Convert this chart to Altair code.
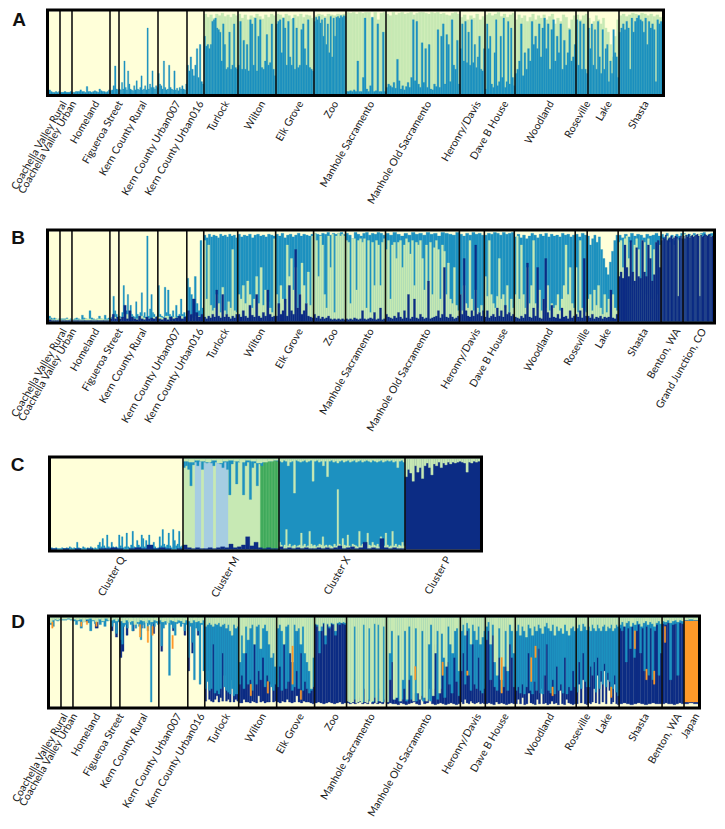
import altair as alt
import pandas as pd

CREAM, LGREEN, GREEN, BLUE, NAVY, ORANGE, PALE = "#FFFFD9", "#C7E9B4", "#41AB5D", "#1D91C0", "#0C2C84", "#FE9929", "#A6CDE2"
PALETTE_NAMES = ["cream", "lgreen", "green", "blue", "navy", "orange", "pale"]
PALETTE_HEX = [CREAM, LGREEN, GREEN, BLUE, NAVY, ORANGE, PALE]

POPS_COMMON = ["Coachella Valley Rural", "Coachella Valley Urban", "Homeland", "Figueroa Street", "Kern County Rural",
               "Kern County Urban007", "Kern County Urban016", "Turlock", "Wilton", "Elk Grove", "Zoo", "Manhole Sacramento",
               "Manhole Old Sacramento", "Heronry/Davis", "Dave B House", "Woodland", "Roseville", "Lake", "Shasta"]
SIZES_COMMON = [11, 12, 38, 9, 39, 29, 17, 34, 38, 38, 32, 40, 74, 25, 30, 61, 12, 31, 43]
POPS_B = POPS_COMMON + ["Benton, WA", "Grand Junction, CO"]
SIZES_B = SIZES_COMMON + [22, 30]
POPS_C = ["Cluster Q", "Cluster M", "Cluster X", "Cluster P"]
SIZES_C = [132, 96, 126, 75]
POPS_D = POPS_COMMON + ["Benton, WA", "Japan"]
SIZES_D = SIZES_COMMON + [22, 14]
LABEL_SHIFT = {"Coachella Valley Rural": 4, "Coachella Valley Urban": 2}

# ---- Panel A: cumulative heights from the bottom, one list per population
A_CREAM = [[100]] * 19
A_GREEN = [[], [], [], [], [], [], [],
    [97, 93, 96, 92, 97, 95, 98, 94, 96, 93, 97, 95],
    [97, 92, 96, 90, 95, 93, 97, 94, 91, 96, 93, 97, 95],
    [97, 96, 93, 97, 95, 91, 96, 94, 97, 93, 96, 95, 92],
    [95, 97, 96, 94, 97, 96, 95, 97, 96, 97],
    [99, 98, 99, 97, 99, 98, 99, 99, 92, 99, 90, 98, 99],
    [97, 95, 99, 96, 98, 99, 97, 98, 99, 96, 98, 99, 99, 98, 97, 99, 98, 99, 97, 98, 96, 95, 98, 99, 97],
    [93, 96, 90, 95, 92, 97, 90, 94],
    [96, 98, 95, 97, 99, 94, 97, 93, 96, 98],
    [90, 96, 92, 95, 88, 93, 97, 90, 95, 92, 96, 90, 94, 97, 85, 92, 88, 96, 93, 80, 90, 95],
    [96, 90, 95, 97],
    [92, 80, 88, 95, 90, 85, 92, 80, 75, 60, 45, 70, 90],
    [95, 97, 94, 96, 98, 97, 96, 98, 97, 95, 97, 94, 96, 93]]
A_BLUE = [[5, 3, 2, 2, 3, 2, 3], [2, 2, 3, 2, 2, 3],
    [2, 2, 3, 3, 3, 5, 3, 3, 2, 9, 3, 3, 2, 3, 4, 3, 2, 6, 4, 3, 3, 2, 3, 5],
    [4, 5, 10, 34, 6, 5],
    [6, 5, 14, 6, 40, 8, 5, 28, 12, 6, 5, 4, 10, 5, 16, 6, 5, 8, 22, 5, 6, 10, 5, 80, 6, 12, 8, 28, 8, 6, 10, 8],
    [25, 12, 10, 6, 40, 8, 5, 6, 35, 8, 6, 5, 28, 5, 7, 4, 8, 6, 10, 6, 5, 12],
    [35, 28, 45, 30, 22, 35, 55, 20, 60, 15, 12],
    [70, 58, 60, 55, 60, 88, 90, 92, 80, 78, 75, 40, 85, 60, 30, 32, 75, 30, 35, 85, 32, 30],
    [35, 88, 30, 65, 30, 60, 28, 90, 85, 35, 92, 28, 70, 90, 32, 30, 40, 72, 35, 38, 85, 30, 22],
    [85, 88, 90, 50, 92, 80, 35, 88, 45, 35, 92, 30, 80, 32, 35, 78, 85, 55, 35, 90, 32, 30, 28],
    [88, 93, 90, 94, 86, 90, 70, 92, 60, 85, 50, 94, 45, 92, 70, 93, 94, 92, 95, 93, 95, 94],
    [3, 3, 4, 3, 5, 3, 40, 3, 3, 20, 92, 6, 3, 10, 93, 3, 4, 85, 3, 3, 75, 3],
    [8, 12, 10, 8, 14, 7, 42, 16, 6, 10, 5, 9, 14, 8, 20, 90, 16, 88, 12, 8, 62, 14, 55, 8, 60, 6, 5, 12, 9, 78, 8, 70, 85, 12, 72, 60, 15, 90, 35, 30, 65, 12],
    [55, 85, 40, 88, 38, 75, 35, 90, 38, 60, 32, 45, 70, 30, 28, 55],
    [6, 85, 55, 70, 12, 8, 50, 90, 10, 15, 70, 20, 92, 8, 15, 88, 12, 80, 20, 10],
    [25, 30, 40, 85, 22, 50, 30, 55, 40, 88, 60, 70, 55, 85, 45, 80, 92, 55, 85, 30, 78, 90, 40, 70, 50, 85, 30, 65, 35, 50, 78, 40, 45, 60],
    [90, 35, 88, 30, 85, 30, 25],
    [80, 55, 85, 35, 78, 30, 88, 45, 25, 78, 30, 55, 60, 15, 40, 25, 78, 50, 45, 20],
    [75, 80, 85, 78, 88, 80, 30, 92, 75, 88, 92, 95, 90, 88, 75, 92, 60, 88, 80, 85, 78, 15, 90, 85, 88]]

# ---- Panel B: cumulative heights from the bottom
B_CREAM = [[100]] * 21
B_BLUE = [[6, 4, 3, 4, 3, 2, 3], [3, 3, 3, 4, 2, 3],
    [2, 3, 4, 3, 2, 7, 4, 3, 2, 12, 4, 3, 2, 3, 6, 3, 2, 7, 3, 4],
    [4, 5, 28, 12, 8, 5],
    [6, 5, 10, 40, 6, 12, 30, 8, 18, 8, 6, 5, 22, 8, 5, 10, 32, 6, 10, 5, 95, 6, 14, 30, 10, 8, 5, 6],
    [40, 8, 6, 5, 38, 10, 35, 8, 6, 12, 5, 18, 6, 8, 25, 8, 10, 6],
    [48, 38, 30, 25, 50, 20, 12, 90, 15],
    [96, 93, 97, 94, 96, 95, 93, 97, 95, 96, 94, 97, 95, 96, 93],
    [97, 94, 96, 95, 97, 93, 96, 97, 95, 96, 94, 97, 96, 95],
    [97, 95, 98, 93, 96, 97, 94, 96, 98, 95, 97, 96, 95, 97],
    [98, 97, 96, 98, 97, 99, 96, 98, 97, 98, 99, 97],
    [98, 96, 92, 99, 97, 95, 98, 99, 96, 98, 97, 99, 98, 96],
    [98, 96, 99, 97, 95, 98, 96, 99, 97, 98, 96, 99, 97, 98, 95, 99, 98, 97, 96, 99],
    [97, 95, 98, 96, 99, 97, 98, 96],
    [96, 98, 97, 99, 98, 96, 99, 97, 98, 99],
    [94, 97, 93, 96, 92, 95, 98, 96, 93, 97, 95, 98, 94, 97, 95, 96, 94, 98, 96, 97, 94, 96],
    [97, 94, 98, 96],
    [95, 85, 92, 96, 88, 94, 80, 70, 60, 52, 66, 78, 90, 96],
    [96, 93, 97, 94, 98, 95, 97, 96, 93, 97, 95, 96, 98, 95],
    [97, 94, 98, 93, 96, 90, 97, 95, 98],
    [98, 96, 97, 95, 98, 96, 97, 98, 99, 96, 97, 98]]
B_GREEN = [[3, 2, 2, 3, 2], [2, 2, 3, 2], [2, 2, 3, 2, 3, 2], [3, 5, 4], [4, 8, 5, 3, 6, 4, 3, 5],
    [5, 4, 6, 3, 5, 4, 6, 3], [8, 4, 6, 3],
    [90, 25, 85, 18, 12, 15, 30, 20, 10, 38, 12, 8, 22, 15, 80, 12, 10],
    [30, 25, 40, 20, 45, 30, 15, 25, 50, 20, 60, 18, 35, 22, 15, 10, 92],
    [30, 15, 40, 25, 20, 85, 50, 70, 35, 60, 15, 30, 65, 40, 20, 55, 18, 95],
    [98, 90, 50, 95, 85, 30, 15, 95, 60, 97, 10, 95, 98, 95, 97, 95],
    [90, 88, 20, 92, 92, 35, 90, 92, 88, 92, 15, 90, 10, 88, 40, 90, 85, 40, 88, 92],
    [80, 90, 25, 85, 88, 70, 88, 90, 60, 85, 92, 88, 75, 90, 40, 88, 85, 90, 70, 35, 85, 45, 88, 30, 82, 90, 80, 25, 85, 78, 30, 65, 25, 20, 60, 18, 12],
    [30, 12, 40, 20, 15, 90, 25, 12, 35, 15, 10, 18, 8],
    [50, 28, 90, 30, 20, 15, 28, 70, 25, 30, 15, 40, 10, 25, 15],
    [30, 95, 25, 85, 30, 15, 60, 20, 40, 90, 20, 15, 35, 12, 25, 15, 40, 12, 20, 15, 18, 30, 12, 25, 40, 85, 30, 60, 20, 15],
    [60, 10, 90, 15, 12, 10],
    [25, 30, 12, 35, 18, 40, 15, 8, 30, 10, 25, 8, 30, 15, 12],
    [88, 90, 60, 92, 95, 70, 88, 40, 85, 92, 80, 35, 90, 88, 30, 92, 85, 25, 80, 88, 30, 85],
    [92, 90, 95, 88, 93, 85, 92, 90, 95],
    [97, 94, 96, 95, 97, 94, 96, 95]]
B_NAVY = [[2, 1, 1, 1, 1], [1, 1, 1, 1], [1, 1, 1, 1, 1, 1], [3, 8, 3, 5], [3, 5, 18, 3, 12, 5, 3, 2, 6, 3, 2, 5, 3, 4, 3, 5],
    [3, 2, 4, 2, 5, 3, 4, 6, 3, 5], [12, 8, 25, 10, 5, 8],
    [5, 3, 6, 4, 8, 5, 35, 6, 4, 30, 5, 8, 5, 3, 6, 4, 8],
    [8, 5, 12, 6, 4, 18, 7, 5, 30, 6, 4, 10, 6, 35, 8, 5, 6],
    [6, 20, 8, 12, 25, 6, 40, 12, 8, 80, 15, 30, 8, 12, 20, 6, 5, 4],
    [8, 4, 6, 3, 5, 3, 4, 6, 3, 2, 3, 2, 3, 2, 3, 2],
    [3, 2, 3, 2, 4, 3, 2, 3, 12, 3, 2, 3, 4, 3, 10, 2, 3, 15, 2, 3],
    [8, 5, 4, 3, 6, 4, 10, 5, 3, 12, 4, 30, 3, 5, 25, 4, 3, 8, 5, 3, 4, 45, 3, 4, 5, 6, 12, 4, 8, 60, 5, 4, 8, 5, 3, 4, 6],
    [30, 8, 70, 12, 6, 5, 12, 6, 85, 8, 10, 6, 12],
    [5, 12, 4, 6, 8, 5, 15, 6, 12, 5, 18, 8, 10, 6, 8],
    [5, 4, 3, 6, 4, 8, 65, 5, 4, 15, 6, 60, 4, 3, 25, 70, 10, 4, 18, 5, 4, 8, 3, 15, 5, 6, 3, 12, 4, 6],
    [8, 5, 12, 4, 70, 6],
    [6, 4, 8, 3, 5, 4, 6, 3, 5, 4, 5, 35, 4, 3, 8],
    [50, 55, 48, 85, 60, 50, 90, 55, 45, 82, 50, 48, 90, 55, 50, 85, 70, 45, 52, 88, 90, 60],
    [90, 93, 92, 96, 90, 92, 93, 95, 92, 93, 95, 94, 28, 93, 95, 92],
    [95, 92, 96, 94, 97, 93, 95, 96, 94, 95, 96, 97, 95, 28, 96, 94, 95, 97, 96, 95, 96, 97, 94, 95]]

# ---- Panel C
C_BASE = {"cream": [[100], [], [], []], "lgreen": [[], [100], [], []], "blue": [[], [], [100], []], "navy": [[], [], [], [100]]}
C_PALE = [[], [0, 0, 0, 0, 100, 100, 0, 100, 100, 100, 0, 100, 100, 100, 100, 0, 0, 0, 0, 0, 0, 0, 0, 0, 0, 0, 0, 0, 0, 0, 0, 0], [], []]
C_GREEN_UP = [[], [0, 0, 0, 0, 0, 0, 0, 0, 0, 0, 0, 0, 0, 0, 0, 0, 0, 0, 0, 0, 0, 0, 0, 0, 0, 0, 0, 0, 0, 0, 0, 0, 0, 0, 0, 0, 0, 0, 0, 0, 0, 0, 0, 0, 0, 0, 0, 0, 0, 0, 100, 100, 100, 100, 100, 100, 100, 100, 100, 100, 100, 100], [], []]
C_BLUE_UP = [[2, 1, 1, 2, 1, 1, 1, 2, 1, 1, 2, 1, 3, 2, 1, 2, 1, 8, 2, 1, 1, 3, 2, 1, 2, 1, 3, 2, 1, 2, 1, 5, 8, 3, 12, 4, 2, 16, 3, 2, 8, 3, 2, 3, 2, 16, 4, 14, 2, 3, 18, 3, 2, 5, 20, 3, 2, 10, 5, 3, 16, 12, 3, 10, 4, 16, 3, 2, 8, 3, 1, 2, 14, 4, 22, 6, 3, 5, 18, 4, 2, 22, 10, 4, 6, 20, 3, 4], [], [], []]
C_LG_UP = [[], [], [8, 5, 3, 5, 22, 4, 6, 3, 4, 5, 3, 4, 5, 18, 4, 6, 3, 4, 20, 6, 4, 5, 3, 4, 6, 5, 14, 4, 5, 3, 5, 4, 3, 6, 4, 66, 6, 4, 12, 5, 4, 16, 4, 3, 6, 5, 4, 3, 20, 4, 6, 3, 4, 18, 5, 4, 8, 5, 4, 6, 3, 14, 5, 4, 18, 5, 3, 4, 20, 4, 6, 3, 5, 4, 8, 4], []]
C_NAVY_UP = [[1, 0, 1, 0, 1, 0, 1, 0, 1, 1, 2, 1, 0, 1, 2, 1, 5, 1, 2, 1, 0, 1], [5, 2, 1, 2, 1, 1, 2, 1, 2, 3, 2, 6, 2, 3, 5, 14, 4, 8, 2, 1, 2, 1, 1], [3, 1, 2, 1, 2, 1, 2, 1, 1, 2, 1, 2, 1, 2, 4, 1, 2, 3, 1, 2, 8, 1, 2, 1, 12, 2, 1, 2, 1, 1], []]
C_TOP_BLUE = [[], [90, 92, 88, 70, 93, 96, 92, 97, 88, 96, 95, 96, 95, 92, 96, 95, 94, 90, 96, 88, 60, 94, 97, 72, 96, 97, 60, 92, 96, 55, 90, 95, 70, 94, 92, 96, 97, 98, 97, 98, 98, 97], [], []]
C_TOP_LIGHT = [[], [97, 96, 98, 97, 96, 98, 95, 97, 98, 97, 96, 98, 97, 95, 96, 97, 98], [97, 96, 98, 97, 92, 96, 97, 62, 98, 97, 96, 97, 98, 96, 97, 98, 75, 97, 98, 96, 97, 92, 97, 80, 97, 98, 96, 97, 95, 97, 98, 96, 97, 98, 96, 97, 98, 96, 97, 98, 96, 97, 98, 97, 96, 98, 97, 96, 97, 98, 96, 97, 98, 97, 98, 96, 97, 90, 97, 98, 96], [80, 88, 84, 75, 92, 85, 90, 78, 92, 95, 90, 82, 94, 92, 96, 90, 95, 93, 96, 94, 96, 95, 96, 97, 96, 95, 85, 96, 95, 97, 96, 97]]

# ---- Panel D: lower end of each colour hanging from the top of the bar (100 = not present)
D_NAVY = [[100, 100, 100, 100, 100], [100, 100, 100, 100],
    [100, 100, 100, 100, 95, 100, 100, 88, 100, 100, 100, 100],
    [85, 100, 78, 100],
    [55, 62, 100, 80, 100, 100, 85, 100, 100, 100, 88, 100, 100, 100, 100, 100, 82, 100, 100],
    [100, 62, 100, 100, 100, 100, 100, 85, 100, 100, 100, 100, 100, 80, 100],
    [40, 100, 60, 100, 100, 80, 100, 100, 100],
    [6, 40, 8, 6, 5, 8, 12, 5, 10, 6, 35, 6, 8, 5, 30, 5, 8, 6],
    [4, 4, 8, 5, 5, 4, 6, 5, 4, 12, 5, 6, 4, 5, 5, 25, 5, 6],
    [5, 4, 6, 5, 8, 5, 4, 5, 12, 5, 4, 6, 5, 5, 4, 3],
    [4, 5, 4, 3, 4, 5, 4, 3, 4, 5, 3, 4],
    [4, 3, 4, 3, 4, 5, 3, 4, 3, 8, 3, 4, 3, 4, 3, 5],
    [3, 4, 3, 3, 2, 4, 3, 2, 3, 4, 5, 3, 2, 8, 3, 4, 20, 3, 2, 3, 4, 3, 2, 3, 4, 3, 2, 3],
    [5, 3, 8, 4, 3, 6, 4, 3, 4, 5, 3, 4, 3],
    [3, 4, 3, 2, 5, 3, 4, 3, 2, 3, 4, 3],
    [3, 8, 3, 10, 2, 3, 15, 4, 3, 2, 8, 3, 20, 3, 4, 2, 3, 6, 3, 4, 2, 18, 3, 2, 8, 4, 3, 2, 3],
    [3, 25, 4, 30, 3, 2],
    [4, 3, 5, 20, 4, 35, 3, 28, 5, 40, 3, 30, 18, 3, 5, 25, 3, 2],
    [3, 4, 3, 2, 3, 4, 3, 2, 3, 4, 3, 3],
    [3, 4, 3, 3, 2, 3, 4, 3],
    [3, 4, 3]]
D_BLUE = [[92, 90, 97, 96, 97], [97, 97, 98, 97],
    [96, 92, 96, 88, 95, 97, 94, 85, 96, 93, 97, 92, 95, 90, 96, 97],
    [90, 94, 82, 95],
    [75, 70, 90, 92, 88, 95, 92, 85, 94, 88, 93, 90, 75, 92, 88, 94, 85, 92, 5, 93, 90, 94, 92],
    [93, 68, 88, 92, 94, 35, 92, 88, 80, 93, 94, 90, 93, 85, 92],
    [55, 90, 72, 30, 88, 85, 25, 92, 40],
    [20, 28, 18, 20, 70, 15, 18, 14, 20, 60, 22, 18, 16, 14, 20, 12, 14, 14],
    [25, 35, 20, 60, 25, 30, 18, 70, 25, 40, 30, 55, 22, 35, 28, 22, 18, 25],
    [22, 45, 18, 70, 20, 28, 75, 18, 22, 40, 20, 60, 18, 28, 20, 15, 18, 22],
    [92, 90, 60, 85, 93, 70, 92, 88, 93, 92, 80, 93, 92, 94, 93, 92],
    [8, 6, 30, 8, 6, 10, 5, 20, 8, 6, 5, 10, 6, 20, 5, 8],
    [6, 30, 50, 8, 10, 6, 8, 20, 6, 30, 8, 15, 6, 60, 12, 6, 30, 8, 6, 20, 70, 8, 20, 35, 10, 50, 25, 15, 55, 28, 12],
    [40, 60, 25, 85, 35, 18, 70, 25, 20, 55, 18, 15, 20],
    [75, 85, 30, 80, 22, 18, 55, 16, 22, 45, 18, 70, 55, 22],
    [18, 22, 15, 25, 14, 22, 60, 18, 14, 28, 18, 65, 15, 14, 35, 70, 18, 15, 30, 14, 45, 18, 25, 15, 55, 14, 22, 18, 40, 22],
    [16, 50, 20, 60, 28, 22],
    [22, 45, 35, 50, 16, 55, 20, 40, 25, 48, 22, 38, 28, 12, 20, 35, 16, 12],
    [88, 85, 92, 50, 88, 65, 90, 55, 85, 92, 60, 88, 40, 90, 35, 88, 30, 85, 92, 35, 60],
    [93, 92, 94, 30, 92, 93, 35, 94, 93],
    [97, 96, 97]]
D_GREEN = [[94, 97, 98, 97, 98], [98, 98, 99, 98],
    [98, 97, 98, 95, 98, 99, 97, 95, 98, 96, 99, 97],
    [97, 98, 96, 98],
    [96, 94, 97, 95, 96, 92, 95, 97, 96, 94, 97, 95, 97, 96],
    [97, 95, 96, 94, 97, 96, 95, 97, 96, 94, 97],
    [96, 94, 97, 95, 96, 94, 97],
    [90, 92, 94, 92, 90, 93, 92, 94, 90, 92, 93, 88, 92, 85, 80, 92, 88, 90],
    [50, 80, 60, 90, 75, 88, 92, 70, 90, 92, 65, 88, 92, 85, 70, 55, 60, 45],
    [88, 92, 85, 70, 90, 92, 60, 50, 92, 85, 88, 70, 90, 60, 50, 40, 20, 55],
    [93, 92, 85, 90, 94, 80, 93, 90, 94, 93, 85, 94, 95, 94, 95, 94],
    [6, 5, 4, 5, 90, 4, 5, 6, 4, 92, 5, 4, 88, 5, 6, 93, 4, 92, 6, 5, 90, 5],
    [5, 60, 85, 8, 10, 80, 6, 30, 85, 8, 90, 35, 6, 88, 15, 8, 85, 10, 6, 70, 92, 12, 60, 85, 15, 82, 55, 45, 90, 70, 60, 85, 88, 40],
    [85, 92, 80, 94, 88, 70, 92, 85, 75, 90, 70, 78, 85],
    [90, 95, 70, 92, 50, 35, 88, 30, 45, 85, 40, 92, 85, 60],
    [85, 92, 80, 90, 85, 78, 92, 88, 80, 90, 85, 92, 88, 82, 90, 94, 88, 85, 92, 80, 90, 85, 88, 82, 92, 85, 80, 88, 90, 85],
    [88, 92, 85, 93, 90, 86],
    [90, 85, 92, 88, 85, 92, 88, 85, 90, 92, 85, 90, 88, 92, 85, 88, 92, 90],
    [92, 95, 90, 94, 96, 90, 94, 92, 96, 93, 90, 94, 96, 92, 95, 93, 90, 94, 96, 93],
    [96, 95, 97, 94, 96, 97, 95, 97, 96],
    [97, 98, 97]]
D_ORANGE_POP = [0, 2, 2, 2, 4, 4, 4, 5, 8, 8, 9, 9, 12, 12, 13, 14, 15, 15, 15, 17, 18, 18, 18, 19]
D_ORANGE_POS = [.15, .2, .35, .6, .5, .7, .82, .45, .3, .75, .4, .62, .38, .75, .25, .52, .25, .32, .6, .72, .35, .62, .8, .1]
D_ORANGE_LO = [88, 90, 92, 90, 78, 72, 80, 65, 12, 15, 25, 8, 30, 35, 35, 15, 28, 55, 12, 10, 65, 30, 25, 72]
D_ORANGE_HI = [95, 95, 96, 95, 92, 90, 90, 80, 25, 28, 68, 18, 45, 50, 40, 55, 55, 68, 22, 22, 85, 42, 40, 90]
D_ORANGE_WIDE_POP = [20]
D_ORANGE_WIDE_LO = [5]
D_ORANGE_WIDE_HI = [96]

LETTERS = ["A", "B", "C", "D"]
PANEL_W = 670
PANEL_H = [219.5, 227, 159, 130]
BAR_X = [(3, 616), (3, 667), (5, 434), (4, 652)]
BAR_Y = [(84, 1.5), (91.5, 1.5), (92.5, 1.5), (90.5, 1.5)]
LETTER_X = [-27, -28, -28.5, -28]
LETTER_Y = [10, 7.5, 8, 6]
FONT = "Lato"


def rows(sizes, levels, color, mode):
    out, start = [], 0
    for size, col in zip(sizes, levels):
        for i, v in enumerate(col):
            step = size / len(col)
            lo, hi = (0, v) if mode == "up" else (v, 100)
            if hi > lo:
                out.append(dict(x=start + i * step, x2=start + (i + 1) * step, y=lo, y2=hi, c=color))
        start += size
    return out


def panel(k, names, sizes, data):
    df = pd.DataFrame(data)
    total = sum(sizes)
    x_scale = alt.Scale(domain=[0, total], range=list(BAR_X[k]))
    y_scale = alt.Scale(domain=[0, 100], range=list(BAR_Y[k]))
    bars = alt.Chart(df).mark_rect(strokeWidth=0.3).encode(
        x=alt.X("x:Q", scale=x_scale, axis=None), x2="x2:Q",
        y=alt.Y("y:Q", scale=y_scale, axis=None), y2="y2:Q",
        color=alt.Color("c:N", scale=alt.Scale(domain=PALETTE_NAMES, range=PALETTE_HEX), legend=None),
        stroke=alt.Stroke("c:N", scale=alt.Scale(domain=PALETTE_NAMES, range=PALETTE_HEX), legend=None))
    edges, mids, s = [], [], 0
    for name, v in zip(names, sizes):
        mids.append(s + v / 2 + LABEL_SHIFT.get(name, 0))
        s += v
        edges.append(s)
    top, bottom = BAR_Y[k][1] - 1.5, BAR_Y[k][0] + 1.5
    seps = alt.Chart(pd.DataFrame({"x": edges[:-1]})).mark_rule(color="#111", strokeWidth=1.6).encode(
        x=alt.X("x:Q", scale=x_scale, axis=None), y=alt.value(top), y2=alt.value(bottom))
    frame = alt.Chart(pd.DataFrame({"a": [0]})).mark_rect(fillOpacity=0, stroke="#000", strokeWidth=3).encode(
        x=alt.value(BAR_X[k][0] - 1.5), x2=alt.value(BAR_X[k][1] + 1.5), y=alt.value(top), y2=alt.value(bottom))
    labels = alt.Chart(pd.DataFrame({"x": mids, "t": names})).mark_text(
        angle=300, align="right", baseline="middle", font=FONT, fontSize=10.5, color="#222", dy=7).encode(
        x=alt.X("x:Q", scale=x_scale, axis=None), y=alt.value(bottom + 3), text="t:N")
    letter = alt.Chart(pd.DataFrame({"t": [LETTERS[k]]})).mark_text(
        font="Liberation Sans", fontWeight="bold", fontSize=19, baseline="middle", align="center", color="#111").encode(
        x=alt.value(LETTER_X[k]), y=alt.value(LETTER_Y[k]), text="t:N")
    return alt.layer(bars, seps, frame, labels, letter).properties(width=PANEL_W, height=PANEL_H[k])


dA = rows(SIZES_COMMON, A_CREAM, "cream", "up") + rows(SIZES_COMMON, A_GREEN, "lgreen", "up") + rows(SIZES_COMMON, A_BLUE, "blue", "up")
dB = (rows(SIZES_B, B_CREAM, "cream", "up") + rows(SIZES_B, B_BLUE, "blue", "up")
      + rows(SIZES_B, B_GREEN, "lgreen", "up") + rows(SIZES_B, B_NAVY, "navy", "up"))
dC = []
for name, lv in C_BASE.items():
    dC += rows(SIZES_C, lv, name, "up")
dC += (rows(SIZES_C, C_PALE, "pale", "up") + rows(SIZES_C, C_GREEN_UP, "green", "up")
       + rows(SIZES_C, C_TOP_BLUE, "blue", "down") + rows(SIZES_C, C_TOP_LIGHT, "lgreen", "down")
       + rows(SIZES_C, C_BLUE_UP, "blue", "up") + rows(SIZES_C, C_LG_UP, "lgreen", "up") + rows(SIZES_C, C_NAVY_UP, "navy", "up"))
dD = (rows(SIZES_D, [[100]] * 21, "cream", "up") + rows(SIZES_D, D_NAVY, "navy", "down")
      + rows(SIZES_D, D_BLUE, "blue", "down") + rows(SIZES_D, D_GREEN, "lgreen", "down"))
starts = [sum(SIZES_D[:i]) for i in range(len(SIZES_D))]
for p, lo, hi in zip(D_ORANGE_WIDE_POP, D_ORANGE_WIDE_LO, D_ORANGE_WIDE_HI):
    dD.append(dict(x=starts[p], x2=starts[p] + SIZES_D[p], y=lo, y2=hi, c="orange"))
for p, f, lo, hi in zip(D_ORANGE_POP, D_ORANGE_POS, D_ORANGE_LO, D_ORANGE_HI):
    a = starts[p] + f * SIZES_D[p]
    dD.append(dict(x=a, x2=a + 1.5, y=lo, y2=hi, c="orange"))

chart = alt.vconcat(
    panel(0, POPS_COMMON, SIZES_COMMON, dA),
    panel(1, POPS_B, SIZES_B, dB),
    panel(2, POPS_C, SIZES_C, dC),
    panel(3, POPS_D, SIZES_D, dD),
    spacing=0, bounds="flush",
).properties(padding={"left": 1, "top": 0, "right": 0, "bottom": 0}).configure_view(stroke=None)

chart.save("out.html", embed_options={"renderer": "svg", "actions": False})
